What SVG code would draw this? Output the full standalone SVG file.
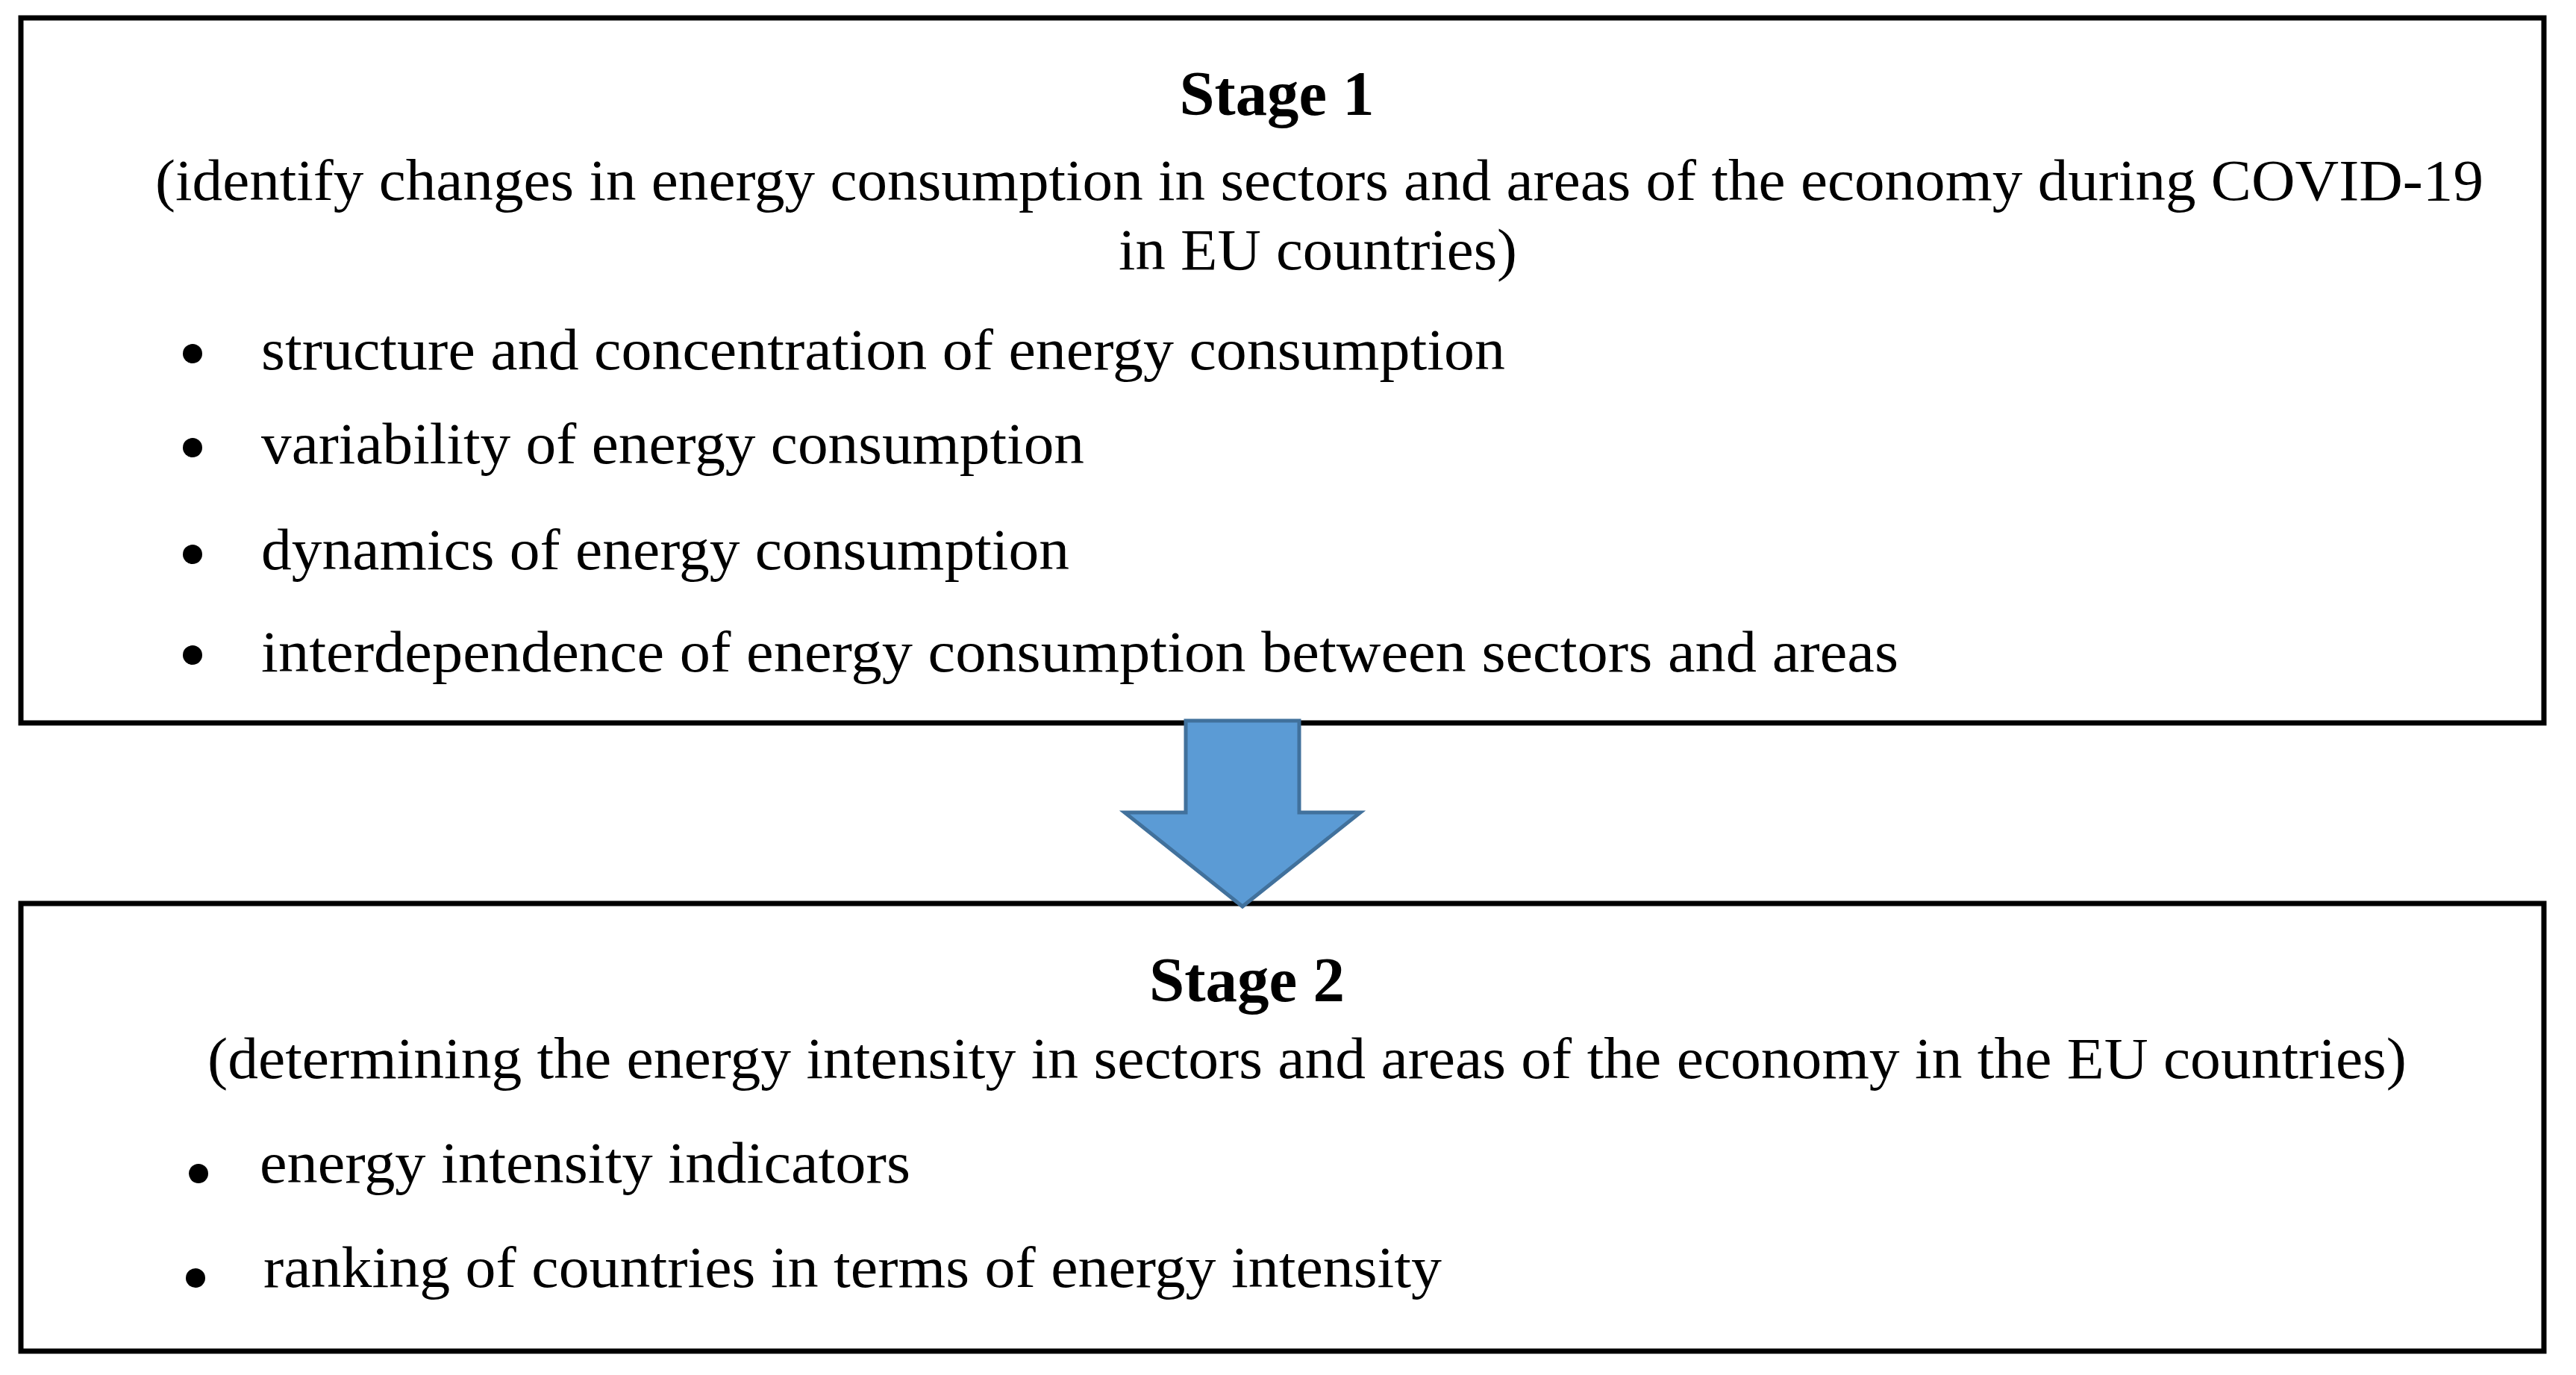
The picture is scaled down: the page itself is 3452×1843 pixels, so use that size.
<svg xmlns="http://www.w3.org/2000/svg" width="3452" height="1843" viewBox="0 0 3452 1843">
<style>
.box{fill:#ffffff;stroke:#000000;stroke-width:7}
.t{font-family:"Liberation Serif","Times New Roman",serif;font-size:78px;fill:#000000}
.h{font-family:"Liberation Serif","Times New Roman",serif;font-size:84px;font-weight:bold;fill:#000000}
.b{fill:#000000}
.arrow{fill:#5B9BD5;stroke:#41719C;stroke-width:5;stroke-linejoin:miter}
</style>
<rect x="0" y="0" width="3452" height="1843" fill="#ffffff"/>
<g id="stage1">
<rect class="box" x="28" y="24" width="3381" height="945"/>
<text class="h" x="1711" y="154" text-anchor="middle" textLength="261" lengthAdjust="spacingAndGlyphs">Stage 1</text>
<text class="t" x="208" y="268" textLength="3120" lengthAdjust="spacingAndGlyphs">(identify changes in energy consumption in sectors and areas of the economy during COVID-19</text>
<text class="t" x="1499" y="361" textLength="534" lengthAdjust="spacingAndGlyphs">in EU countries)</text>
<circle class="b" cx="258" cy="474" r="13"/>
<text class="t" x="350" y="495" textLength="1667" lengthAdjust="spacingAndGlyphs">structure and concentration of energy consumption</text>
<circle class="b" cx="258" cy="600" r="13"/>
<text class="t" x="350" y="621" textLength="1103" lengthAdjust="spacingAndGlyphs">variability of energy consumption</text>
<circle class="b" cx="258" cy="743" r="13"/>
<text class="t" x="350" y="763" textLength="1083" lengthAdjust="spacingAndGlyphs">dynamics of energy consumption</text>
<circle class="b" cx="258" cy="878" r="13"/>
<text class="t" x="350" y="900" textLength="2194" lengthAdjust="spacingAndGlyphs">interdependence of energy consumption between sectors and areas</text>
</g>
<g id="stage2">
<rect class="box" x="28" y="1211" width="3381" height="600"/>
<text class="h" x="1671" y="1342" text-anchor="middle" textLength="262" lengthAdjust="spacingAndGlyphs">Stage 2</text>
<text class="t" x="278" y="1445" textLength="2947" lengthAdjust="spacingAndGlyphs">(determining the energy intensity in sectors and areas of the economy in the EU countries)</text>
<circle class="b" cx="266" cy="1573" r="13"/>
<text class="t" x="348" y="1585" textLength="872" lengthAdjust="spacingAndGlyphs">energy intensity indicators</text>
<circle class="b" cx="262" cy="1713" r="13"/>
<text class="t" x="353" y="1725" textLength="1579" lengthAdjust="spacingAndGlyphs">ranking of countries in terms of energy intensity</text>
</g>
<g id="connectors">
<polygon class="arrow" points="1589,966 1741,966 1741,1089 1823,1089 1665,1215 1507,1089 1589,1089"/>
</g>
</svg>
